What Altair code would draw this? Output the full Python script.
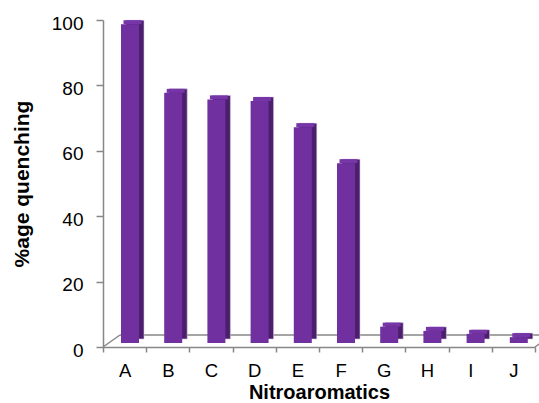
import altair as alt
import pandas as pd

categories = ["A", "B", "C", "D", "E", "F", "G", "H", "I", "J"]
quenching = [97.5, 76.5, 74.5, 74.0, 66.0, 55.0, 5.0, 3.7, 2.8, 1.8]

df = pd.DataFrame({"cat": categories, "val": quenching})
zero = pd.DataFrame({"z": [0]})

FONT = "Liberation Sans"
GRAY = "#878787"

x_enc = alt.X(
    "cat:N",
    sort=categories,
    scale=alt.Scale(paddingInner=0, paddingOuter=0),
    axis=alt.Axis(
        title="Nitroaromatics",
        labelAngle=0,
        tickBand="extent",
        tickSize=5,
        labelPadding=24,
        labelFontSize=18.5,
        labelBaseline="alphabetic",
        titleX=216,
        titleY=51,
        titleFontSize=20,
        titleBaseline="alphabetic",
        titleAlign="center",
        domainWidth=1.5,
    ),
)
y_enc = alt.Y(
    "val:Q",
    scale=alt.Scale(domain=[0, 100], nice=False),
    axis=alt.Axis(
        title="%age quenching",
        values=[0, 20, 40, 60, 80, 100],
        tickSize=7,
        labelPadding=13,
        labelBaseline="middle",
        labelOffset=3,
        titleAngle=270,
        titleX=-81,
        titleY=163.5,
        titleAlign="center",
        titleBaseline="middle",
        domainWidth=1.5,
    ),
)

base = alt.Chart(df)

side = base.mark_bar(width=18, xOffset=10.4, yOffset=-8, y2Offset=-8,
                     color="#4b1f6c", stroke="#d6c4e8", strokeWidth=0.6).encode(
    x=x_enc, y=y_enc, y2=alt.datum(0)
)
top = base.mark_bar(width=18, xOffset=7.9, yOffset=-8, y2Offset=-4,
                    color="#7636a8").encode(
    x=x_enc, y=y_enc, y2=alt.Y2("val:Q")
)
front = base.mark_bar(width=18, xOffset=5.4, yOffset=-4, y2Offset=-4,
                      color="#7030a0").encode(
    x=x_enc, y=y_enc, y2=alt.datum(0)
)

zc = alt.Chart(zero)
back_line = zc.mark_rule(color=GRAY, strokeWidth=1.5, yOffset=-12).encode(
    x=alt.value(17), x2=alt.value(452), y=alt.datum(0)
)
left_diag = zc.mark_rule(color=GRAY, strokeWidth=1.5, y2Offset=-12).encode(
    x=alt.value(0), x2=alt.value(17), y=alt.datum(0), y2=alt.datum(0)
)
right_diag = zc.mark_rule(color=GRAY, strokeWidth=1.5, y2Offset=-12).encode(
    x=alt.value(432), x2=alt.value(449), y=alt.datum(0), y2=alt.datum(0)
)

chart = (
    alt.layer(back_line, left_diag, right_diag, side, top, front)
    .properties(
        width=432,
        height=327,
        autosize=alt.AutoSizeParams(type="none"),
        padding={"left": 103, "top": 20, "right": 4, "bottom": 56},
        background="white",
    )
    .configure_view(stroke=None)
    .configure_axis(
        grid=False,
        domainColor=GRAY,
        tickColor=GRAY,
        tickWidth=1.5,
        labelFont=FONT,
        labelFontSize=19,
        labelColor="black",
        titleFont=FONT,
        titleFontSize=21,
        titleFontWeight="bold",
        titleColor="black",
    )
)

chart.save("out.html", embed_options={"renderer": "svg", "actions": False})
